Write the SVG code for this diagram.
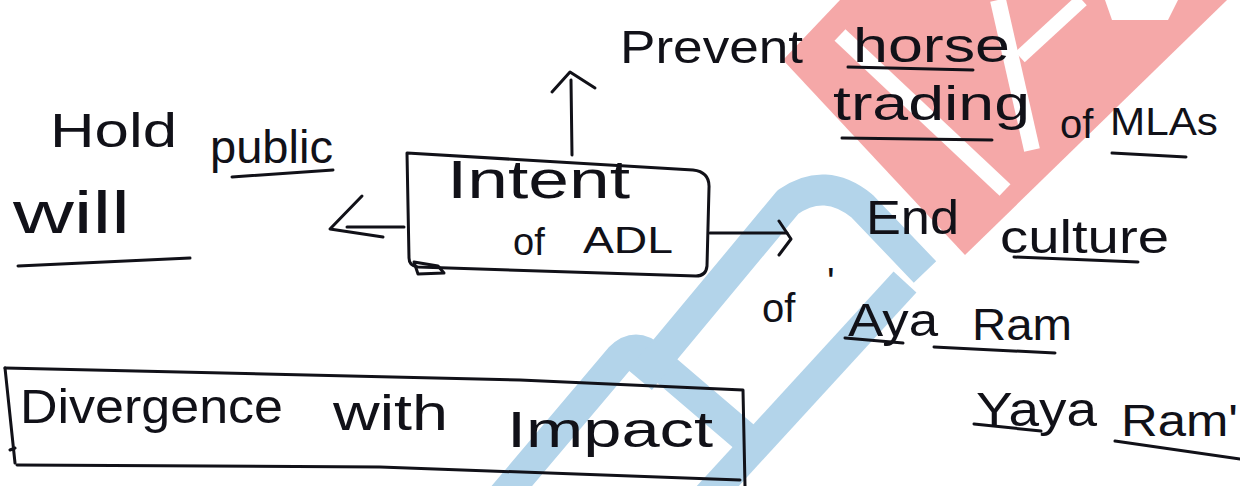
<svg xmlns="http://www.w3.org/2000/svg" width="1240" height="486" viewBox="0 0 1240 486">
  <style>
    .ink { fill: none; stroke: #111118; stroke-width: 3; stroke-linecap: round; stroke-linejoin: round; }
    .txt { font-family: "Liberation Sans", "DejaVu Sans", sans-serif; fill: #111118; }
    .band { fill: none; stroke: #b3d4ea; stroke-width: 31; stroke-linejoin: round; }
  </style>
  <rect width="1240" height="486" fill="#ffffff"/>

  <!-- faint background logo marks -->
  <g id="background-marks">
    <polygon points="783,60 840,0 1227,0 965,255" fill="#f5a8a8"/>
    <path d="M840,35 L1005,190" stroke="#ffffff" stroke-width="16" fill="none"/>
    <path d="M998,0 L1032,150" stroke="#ffffff" stroke-width="16" fill="none"/>
    <path d="M1020,57 L1082,0" stroke="#ffffff" stroke-width="14" fill="none"/>
    <polygon points="1105,0 1178,0 1168,20 1112,20" fill="#ffffff"/>
    <path class="band" d="M500,500 L620,358 Q636,342 652,358 L748,440"/>
    <path class="band" d="M640,380 L788,202 Q825,176 862,206 L925,272"/>
    <path class="band" d="M705,500 L905,282"/>
  </g>

  <!-- connectors -->
  <g id="connectors">
    <path class="ink" d="M572,155 L571,80"/>
    <path class="ink" d="M552,92 L570,72 L595,88"/>
    <path class="ink" d="M404,227 L347,227"/>
    <path class="ink" d="M362,196 L330,229 L383,237"/>
    <path class="ink" d="M710,233 L787,233"/>
    <path class="ink" d="M779,221 L791,239 L779,255"/>
  </g>

  <g id="intent-adl">
    <path class="ink" d="M407,153 L693,170 Q710,172 709,188 L707,266 Q706,276 696,276 L418,267 Q409,266 409,258 Z"/>
    <path class="ink" d="M414,262 L418,274 L444,273 L438,266 Z" stroke-width="2"/>
    <text class="txt" font-size="54" x="447" y="198" textLength="183" lengthAdjust="spacingAndGlyphs">Intent</text>
    <text class="txt" font-size="38" x="513" y="255">of</text>
    <text class="txt" font-size="36" x="583" y="253" textLength="90" lengthAdjust="spacingAndGlyphs">ADL</text>
  </g>

  <g id="prevent-horse-trading">
    <text class="txt" font-size="46" x="620" y="63" textLength="183" lengthAdjust="spacingAndGlyphs">Prevent</text>
    <text class="txt" font-size="48" x="853" y="62" textLength="157" lengthAdjust="spacingAndGlyphs">horse</text>
    <path class="ink" d="M848,67 L973,70"/>
    <text class="txt" font-size="48" x="833" y="120" textLength="197" lengthAdjust="spacingAndGlyphs">trading</text>
    <path class="ink" d="M842,138 L992,140"/>
    <text class="txt" font-size="40" x="1060" y="138">of</text>
    <text class="txt" font-size="38" x="1110" y="135" textLength="108" lengthAdjust="spacingAndGlyphs">MLAs</text>
    <path class="ink" d="M1112,153 L1186,157"/>
  </g>

  <g id="hold-public-will">
    <text class="txt" font-size="48" x="50" y="147" textLength="127" lengthAdjust="spacingAndGlyphs">Hold</text>
    <text class="txt" font-size="46" x="210" y="163" textLength="123" lengthAdjust="spacingAndGlyphs">public</text>
    <path class="ink" d="M232,177 L333,170"/>
    <text class="txt" font-size="60" x="13" y="233" textLength="117" lengthAdjust="spacingAndGlyphs">will</text>
    <path class="ink" d="M18,266 L190,258"/>
  </g>

  <g id="end-culture">
    <text class="txt" font-size="48" x="866" y="234" textLength="93" lengthAdjust="spacingAndGlyphs">End</text>
    <text class="txt" font-size="46" x="1000" y="253" textLength="169" lengthAdjust="spacingAndGlyphs">culture</text>
    <path class="ink" d="M1014,257 L1138,262"/>
    <text class="txt" font-size="40" x="762" y="322">of</text>
    <text class="txt" font-size="40" x="827" y="296">'</text>
    <text class="txt" font-size="46" x="848" y="336" textLength="90" lengthAdjust="spacingAndGlyphs">Aya</text>
    <path class="ink" d="M845,338 L903,343"/>
    <text class="txt" font-size="44" x="972" y="340" textLength="100" lengthAdjust="spacingAndGlyphs">Ram</text>
    <path class="ink" d="M934,347 L1055,353"/>
    <text class="txt" font-size="48" x="976" y="426" textLength="121" lengthAdjust="spacingAndGlyphs">Yaya</text>
    <path class="ink" d="M974,424 L1041,431"/>
    <text class="txt" font-size="44" x="1121" y="436" textLength="117" lengthAdjust="spacingAndGlyphs">Ram'</text>
    <path class="ink" d="M1115,441 L1240,459"/>
  </g>

  <g id="divergence-impact">
    <path class="ink" d="M5,368 L520,380 L743,390 L745,486"/>
    <path class="ink" d="M5,368 L15,463 M17,465 L380,467 L740,480 M10,450 L15,448"/>
    <text class="txt" font-size="48" x="20" y="423" textLength="263" lengthAdjust="spacingAndGlyphs">Divergence</text>
    <text class="txt" font-size="50" x="333" y="430" textLength="115" lengthAdjust="spacingAndGlyphs">with</text>
    <text class="txt" font-size="50" x="507" y="447" textLength="206" lengthAdjust="spacingAndGlyphs">Impact</text>
  </g>
</svg>
